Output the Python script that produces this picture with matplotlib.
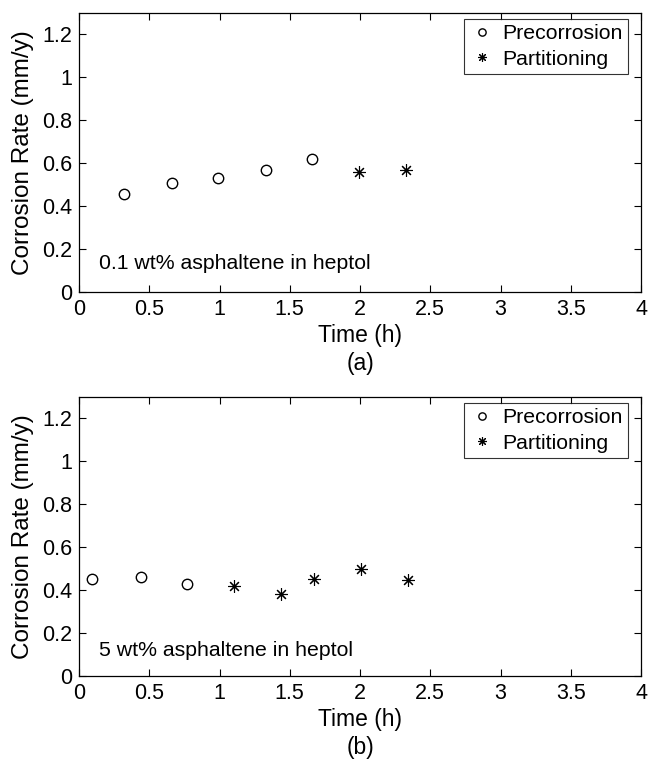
import matplotlib
matplotlib.use('Agg')
import matplotlib.pyplot as plt

plt.rcParams['font.family'] = ['Liberation Sans', 'DejaVu Sans']

# panel (a): 0.1 wt% asphaltene
a_pre_t = [0.32, 0.66, 0.99, 1.33, 1.66]
a_pre_cr = [0.456, 0.507, 0.530, 0.567, 0.619]
a_par_t = [1.99, 2.33]
a_par_cr = [0.560, 0.567]

# panel (b): 5 wt% asphaltene
b_pre_t = [0.09, 0.44, 0.77]
b_pre_cr = [0.454, 0.463, 0.430]
b_par_t = [1.10, 1.44, 1.67, 2.01, 2.34]
b_par_cr = [0.421, 0.384, 0.454, 0.500, 0.449]

xticks = [0, 0.5, 1, 1.5, 2, 2.5, 3, 3.5, 4]
xticklabels = ['0', '0.5', '1', '1.5', '2', '2.5', '3', '3.5', '4']
yticks = [0, 0.2, 0.4, 0.6, 0.8, 1.0, 1.2]
yticklabels = ['0', '0.2', '0.4', '0.6', '0.8', '1', '1.2']

panels = [
    (a_pre_t, a_pre_cr, a_par_t, a_par_cr, '0.1 wt% asphaltene in heptol', 0.135, '(a)'),
    (b_pre_t, b_pre_cr, b_par_t, b_par_cr, '5 wt% asphaltene in heptol', 0.12, '(b)'),
]

fig = plt.figure(figsize=(6.48, 7.61), dpi=100)
W, H = 648, 761
boxes = [(79, 13, 641, 292), (79, 397, 641, 676)]

star = (8, 2, 0)

for (pt, pc, st, sc, note, ny, tag), (l, t, r, b) in zip(panels, boxes):
    ax = fig.add_axes([l / W, 1 - b / H, (r - l) / W, (b - t) / H])
    ax.plot(pt, pc, 'o', ls='none', mfc='white', mec='black', mew=1.0, ms=7.5,
            label='Precorrosion')
    ax.plot(st, sc, marker=star, ls='none', color='black', mew=0.8, ms=9,
            label='Partitioning')
    ax.set_xlim(0, 4)
    ax.set_ylim(0, 1.3)
    ax.set_xticks(xticks)
    ax.set_xticklabels(xticklabels)
    ax.set_yticks(yticks)
    ax.set_yticklabels(yticklabels)
    ax.tick_params(direction='in', top=True, right=True, labelsize=15.5,
                   length=5, width=0.8, pad=5)
    for s in ax.spines.values():
        s.set_linewidth(0.9)
    ax.set_xlabel('Time (h)', fontsize=16.5, labelpad=3)
    ax.set_ylabel('Corrosion Rate (mm/y)', fontsize=17.5, labelpad=6)
    ax.text(0.14, ny, note, fontsize=15.3, va='center', ha='left')
    ax.text(0.5, -0.255, tag, transform=ax.transAxes, fontsize=16.5,
            ha='center', va='center')
    leg = ax.legend(loc='upper right', fontsize=15.3, frameon=True, fancybox=False,
                    edgecolor='black', handlelength=1.2, handletextpad=0.35,
                    borderpad=0.25, labelspacing=0.3, markerscale=0.7,
                    bbox_to_anchor=((628 - l) / (r - l), 1 - 6 / (b - t)),
                    borderaxespad=0)
    leg.get_frame().set_linewidth(0.8)

fig.savefig('out.png', dpi=100)
